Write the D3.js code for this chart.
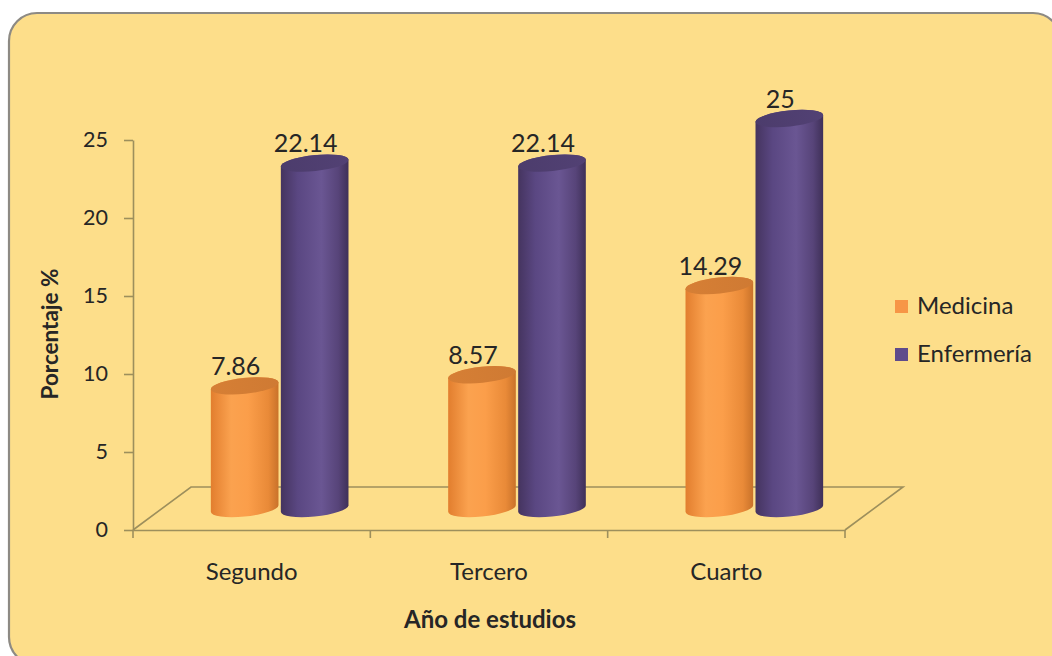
<!DOCTYPE html>
<html>
<head>
<meta charset="utf-8">
<script src="https://cdn.jsdelivr.net/npm/d3@7"></script>
<style>
  html, body { margin: 0; padding: 0; background: #ffffff; }
  svg { display: block; }
  text { font-family: Lato, "Open Sans", sans-serif; }
</style>
</head>
<body>
<svg id="chart" width="1052" height="656"></svg>
<script>
// Year of study categories and percentage per programme
const categories = ["Segundo", "Tercero", "Cuarto"];
const seriesNames = ["Medicina", "Enfermería"];
const medicina = [7.86, 8.57, 14.29];
const enfermeria = [22.14, 22.14, 25];
const yTicks = [0, 5, 10, 15, 20, 25];

const svg = d3.select("#chart");

// panel background with rounded border
svg.append("rect")
  .attr("x", 9).attr("y", 13).attr("width", 1052).attr("height", 652)
  .attr("rx", 28).attr("ry", 28)
  .attr("fill", "#fdde8a").attr("stroke", "#8d8a84").attr("stroke-width", 2.2);

const defs = svg.append("defs");
function bodyGradient(id, stops) {
  const g = defs.append("linearGradient").attr("id", id)
    .attr("x1", "0%").attr("x2", "100%").attr("y1", "0%").attr("y2", "0%");
  stops.forEach(s => g.append("stop").attr("offset", s[0]).attr("stop-color", s[1]));
}
bodyGradient("gOrange", [["0%", "#e27e2e"], ["30%", "#fba24f"], ["55%", "#fb9e4a"], ["85%", "#e98a38"], ["100%", "#c9722a"]]);
bodyGradient("gPurple", [["0%", "#45345f"], ["25%", "#5a4782"], ["60%", "#6a5693"], ["85%", "#574479"], ["100%", "#3f3058"]]);
bodyGradient("gOrangeTop", [["0%", "#d67f35"], ["100%", "#cf7a33"]]);
bodyGradient("gPurpleTop", [["0%", "#4c3c6c"], ["100%", "#524174"]]);

const axisColor = "#9d8f5c";
const textColor = "#262626";

// scales: value axis on the front plane, categories across the floor
const y = d3.scaleLinear().domain([0, 25]).range([530, 140]);
const x = d3.scaleBand().domain(categories).range([133, 845]).padding(0);
const depthDx = 58, depthDy = -43;       // floor depth offset
const midDx = depthDx / 2 - 1, midDy = depthDy / 2;

// floor outline
const x0 = x.range()[0], x1 = x.range()[1], y0 = y(0);
const floor = svg.append("g").attr("stroke", axisColor).attr("stroke-width", 1.6).attr("fill", "none");
floor.append("path").attr("d",
  `M${x0},${y0} L${x0 + depthDx},${y0 + depthDy} L${x1 + depthDx},${y0 + depthDy} L${x1},${y0}`);

// value axis
const yAxis = svg.append("g").attr("transform", `translate(${x0},0)`)
  .call(d3.axisLeft(y).tickValues(yTicks).tickSize(9).tickPadding(16).tickSizeOuter(0));
yAxis.select(".domain").attr("stroke", axisColor).attr("stroke-width", 1.6);
yAxis.selectAll(".tick line").attr("stroke", axisColor).attr("stroke-width", 1.6);
yAxis.selectAll(".tick text").attr("fill", textColor).attr("font-size", 21.5)
  .attr("font-family", "Lato, sans-serif");

// category axis
const xAxis = svg.append("g").attr("transform", `translate(0,${y0})`)
  .call(d3.axisBottom(x).tickSize(0).tickPadding(33));
xAxis.select(".domain").attr("stroke", axisColor).attr("stroke-width", 1.6);
xAxis.selectAll(".tick text").attr("fill", textColor).attr("font-size", 24)
  .attr("font-family", "Lato, sans-serif");
const bounds = categories.map(c => x(c)).concat([x1]);
svg.append("g").selectAll("line").data(bounds).join("line")
  .attr("x1", d => d).attr("x2", d => d).attr("y1", y0).attr("y2", y0 + 8)
  .attr("stroke", axisColor).attr("stroke-width", 1.6);

// cylinders
const rx = 34, ry = 8, tilt = -6;
const phi = tilt * Math.PI / 180;
function ellPoint(cx, cy, t) {
  return [cx + rx * Math.cos(t) * Math.cos(phi) - ry * Math.sin(t) * Math.sin(phi),
          cy + rx * Math.cos(t) * Math.sin(phi) + ry * Math.sin(t) * Math.cos(phi)];
}
const t0 = Math.atan2(-ry * Math.sin(phi), rx * Math.cos(phi));
function bodyPath(cx, top, bot) {
  const R = ellPoint(cx, 0, t0), L = ellPoint(cx, 0, t0 + Math.PI);
  const rt = [R[0], R[1] + top], lt = [L[0], L[1] + top];
  const rb = [R[0], R[1] + bot], lb = [L[0], L[1] + bot];
  return `M${lt[0]},${lt[1]} L${lb[0]},${lb[1]} ` +
    `A${rx},${ry} ${tilt} 0 0 ${rb[0]},${rb[1]} ` +
    `L${rt[0]},${rt[1]} A${rx},${ry} ${tilt} 0 0 ${lt[0]},${lt[1]} Z`;
}

const rows = categories.map((c, i) => ({ cat: c, vals: [medicina[i], enfermeria[i]] }));
const series = [
  { key: seriesNames[0], body: "url(#gOrange)", top: "url(#gOrangeTop)", off: -35 },
  { key: seriesNames[1], body: "url(#gPurple)", top: "url(#gPurpleTop)", off: 35 }
];
const bars = [];
rows.forEach(r => series.forEach((s, si) => {
  const v = r.vals[si];
  const cx = x(r.cat) + x.bandwidth() / 2 + midDx + s.off;
  const base = y(0) + midDy;
  const top = base - (y(0) - y(v));
  bars.push({ v, cx, base, top, s });
}));

const barG = svg.append("g");
bars.forEach(b => {
  const g = barG.append("g");
  g.append("path").attr("d", bodyPath(b.cx, b.top, b.base)).attr("fill", b.s.body);
  g.append("ellipse").attr("cx", 0).attr("cy", 0).attr("rx", rx).attr("ry", ry)
    .attr("transform", `translate(${b.cx},${b.top}) rotate(${tilt})`)
    .attr("fill", b.s.top);
  g.append("text").attr("x", b.cx - 9).attr("y", b.top - ry - 3)
    .attr("text-anchor", "middle").attr("font-size", 25).attr("fill", textColor)
    .text(b.v);
});

// axis titles
svg.append("text").attr("transform", "translate(58,334) rotate(-90)")
  .attr("text-anchor", "middle").attr("font-size", 22.5).attr("font-weight", "bold")
  .attr("fill", textColor).text("Porcentaje %");
svg.append("text").attr("x", 490).attr("y", 628)
  .attr("text-anchor", "middle").attr("font-size", 24).attr("font-weight", "bold")
  .attr("fill", textColor).text("Año de estudios");

// legend
const legendColors = ["#f79646", "#5f4b8b"];
const legend = svg.append("g").selectAll("g").data(seriesNames).join("g")
  .attr("transform", (d, i) => `translate(895,${300 + i * 48})`);
legend.append("rect").attr("width", 13).attr("height", 13).attr("fill", (d, i) => legendColors[i]);
legend.append("text").attr("x", 22).attr("y", 14).attr("font-size", 24)
  .attr("fill", textColor).text(d => d);
</script>
</body>
</html>
